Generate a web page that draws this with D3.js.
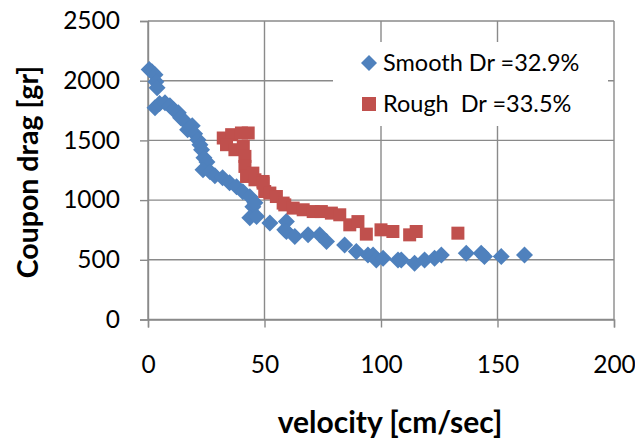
<!DOCTYPE html>
<html><head><meta charset="utf-8">
<script src="https://cdn.jsdelivr.net/npm/d3@7"></script>
<style>body{margin:0;background:#fff}svg{display:block}</style>
</head><body>
<svg id="c" width="635" height="442"></svg>
<script>
const xTicks = [0, 50, 100, 150, 200];
const yTicks = [0, 500, 1000, 1500, 2000, 2500];
const seriesNames = ["Smooth Dr =32.9%", "Rough  Dr =33.5%"];
const smoothV = [0.5,1.7,3,3.4,3.9,3,5,7.3,9.4,11,13,14,16,17,19,20,21.4,22.3,23,24,25.3,23.6,26.6,28.7,32,35,38,40.7,43.7,45,45.9,43.7,46.6,52.3,58.7,59.4,59.4,63,68.7,73.7,76.6,84.4,89.4,94.4,96.6,98,100.9,107.3,108.7,114.4,118.7,123,125.9,136.6,143,144.4,151.6,161.6];
const smoothD = [2093,2076,2050,1992,1942,1774,1808,1816,1790,1757,1732,1690,1657,1590,1623,1556,1506,1464,1422,1355,1320,1254,1237,1204,1187,1145,1112,1070,1028,944,977,852,862,809,751,820,737,695,709,709,653,625,569,541,541,499,513,499,499,471,499,513,541,555,555,527,527,541];
const roughV = [32.3,35.9,40.1,43,33.7,37.3,40.9,41.6,41.6,42.3,45,45.9,49.4,49.4,50.1,52.3,55.1,58,58.7,62.3,66.6,70.9,74.4,78.7,82.3,86.6,90.1,93.7,100,105.1,112.3,115.1,133];
const roughD = [1520,1548,1562,1562,1464,1422,1450,1366,1282,1198,1226,1170,1156,1142,1072,1059,1030,975,960,933,919,904,904,891,877,793,820,715,751,737,709,737,723];

const svg = d3.select("#c");
const x = d3.scaleLinear().domain([0, 200]).range([148, 614]);
const y = d3.scaleLinear().domain([0, 2500]).range([319.5, 21]);
const gridColor = "#8a8a8a";
const font = "Lato, 'Open Sans', sans-serif";

// gridlines
svg.append("g").selectAll("line.h").data(yTicks).join("line")
  .attr("x1", x(0)).attr("x2", x(200)).attr("y1", d => y(d)).attr("y2", d => y(d))
  .attr("stroke", gridColor).attr("stroke-width", 1.4);
svg.append("g").selectAll("line.v").data(xTicks).join("line")
  .attr("y1", y(0)).attr("y2", y(2500)).attr("x1", d => x(d)).attr("x2", d => x(d))
  .attr("stroke", gridColor).attr("stroke-width", 1.4);

// axes
const xAxis = svg.append("g").attr("transform", `translate(0,${y(0)})`)
  .call(d3.axisBottom(x).tickValues(xTicks).tickSize(8).tickPadding(28).tickFormat(d3.format("d")));
const yAxis = svg.append("g").attr("transform", `translate(${x(0)},0)`)
  .call(d3.axisLeft(y).tickValues(yTicks).tickSize(8).tickPadding(20).tickFormat(d3.format("d")));
[xAxis, yAxis].forEach(a => {
  a.select(".domain").attr("stroke", gridColor).attr("stroke-width", 1.4);
  a.selectAll(".tick line").attr("stroke", gridColor).attr("stroke-width", 1.4);
  a.selectAll("text").attr("font-family", font).attr("font-size", 24.5).attr("fill", "#000");
});

// legend background
const lg = svg.append("g");
lg.append("rect").attr("x", 333).attr("y", 42).attr("width", 275).attr("height", 84).attr("fill", "#fff");

const diamond = "M0,-8.5L8.5,0L0,8.5L-8.5,0Z";
const blue = "#4F81BD", red = "#C0504D";

svg.append("g").selectAll("path").data(smoothV.map((v, i) => [v, smoothD[i]])).join("path")
  .attr("d", diamond).attr("transform", d => `translate(${x(d[0])},${y(d[1])})`)
  .attr("fill", blue);
svg.append("g").selectAll("rect").data(roughV.map((v, i) => [v, roughD[i]])).join("rect")
  .attr("x", d => x(d[0]) - 6.5).attr("y", d => y(d[1]) - 6.5).attr("width", 13).attr("height", 13)
  .attr("fill", red);

// legend items
lg.append("path").attr("d", "M0,-8L8,0L0,8L-8,0Z").attr("transform", "translate(369,63)").attr("fill", blue);
lg.append("rect").attr("x", 362).attr("y", 97).attr("width", 14).attr("height", 14).attr("fill", red);
lg.append("text").attr("x", 383).attr("y", 71).attr("font-family", font).attr("font-size", 23.5).text(seriesNames[0]);
lg.append("text").attr("x", 383).attr("y", 112).attr("font-family", font).attr("font-size", 23.5)
  .attr("xml:space", "preserve").style("white-space", "pre").text(seriesNames[1]);

// axis titles
svg.append("text").attr("x", 390).attr("y", 433).attr("text-anchor", "middle")
  .attr("font-family", font).attr("font-weight", "bold").attr("font-size", 30).text("velocity [cm/sec]");
svg.append("text").attr("transform", "translate(38,172) rotate(-90)").attr("text-anchor", "middle")
  .attr("font-family", font).attr("font-weight", "bold").attr("font-size", 28.5).text("Coupon drag [gr]");
</script>
</body></html>
